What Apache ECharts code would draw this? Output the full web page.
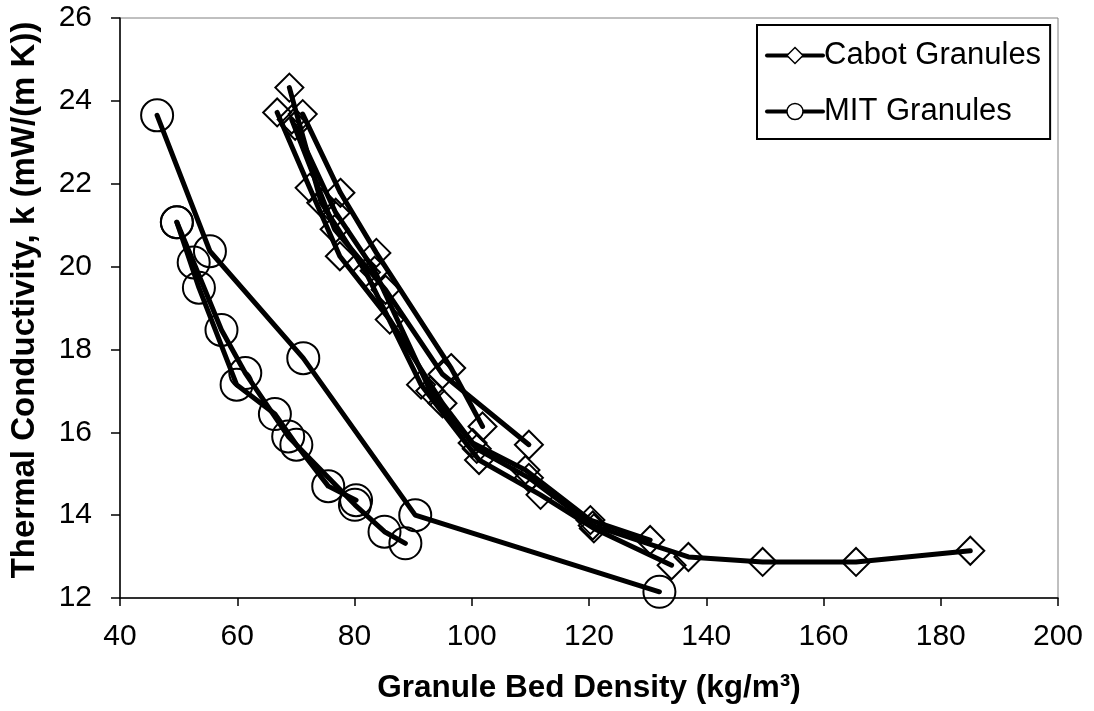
<!DOCTYPE html>
<html><head><meta charset="utf-8">
<script src="https://cdn.jsdelivr.net/npm/echarts@6/dist/echarts.min.js"></script>
<style>html,body{margin:0;padding:0;background:#fff}#c{width:1094px;height:711px}</style>
</head><body><div id="c"></div>
<script>
// X ticks / Y ticks
const xTicks = [40, 60, 80, 100, 120, 140, 160, 180, 200];
const yTicks = [12, 14, 16, 18, 20, 22, 24, 26];

// Cabot Granules runs [density kg/m3, k mW/(m K)]
const cabotRun1 = [[68.89,24.32],[74.33,21.54],[81.95,19.86],[91.35,17.15],[101.24,15.33],[111.73,14.49],[120.83,13.68],[134.09,12.79]];
const cabotRun2 = [[71.17,23.68],[77.60,21.78],[83.73,20.33],[96.49,17.55],[101.84,16.14]];
const cabotRun3 = [[69.29,23.55],[76.61,20.90],[85.31,19.44],[95.01,17.40],[109.75,15.70]];
const cabotRun4 = [[66.81,23.72],[72.35,21.90],[77.50,20.25],[86.01,18.72],[95.01,16.70],[100.15,15.74],[109.16,15.09],[120.24,13.88],[130.43,13.40]];
const cabotRun5 = [[69.88,23.40],[76.80,21.30],[83.43,19.90],[92.93,17.00],[100.85,15.60],[109.75,14.90],[120.64,13.75],[136.96,12.99],[149.62,12.87],[165.55,12.87],[185.04,13.14]];

// MIT Granules runs
const mitRun1 = [[46.33,23.65],[55.34,20.37],[71.26,17.79],[90.36,14.00],[132.01,12.15]];
const mitRun2 = [[49.70,21.07],[53.46,19.49],[59.89,17.15],[66.42,16.44],[70.08,15.70],[75.52,14.70],[80.27,14.36]];
const mitRun3 = [[49.70,21.07],[52.57,20.10],[57.31,18.47],[61.37,17.43],[68.69,15.90],[80.07,14.25],[85.12,13.60],[88.68,13.32]];

const cabotRuns = [cabotRun1, cabotRun2, cabotRun3, cabotRun4, cabotRun5];
const mitRuns = [mitRun1, mitRun2, mitRun3];

const FONT = '"Liberation Sans", Arial, sans-serif';

function mk(name, data, symbol, size) {
  return {
    name, type: 'line', data, symbol, symbolSize: size,
    showAllSymbol: true,
    lineStyle: { color: '#000', width: 5, cap: 'round', join: 'round' },
    itemStyle: { color: 'rgba(255,255,255,0)', borderColor: '#000', borderWidth: 2 },
    emphasis: { disabled: true },
    animation: false, z: 2
  };
}

const series = [];
cabotRuns.forEach(r => series.push(mk('Cabot Granules', r, 'diamond', 28)));
mitRuns.forEach(r => series.push(mk('MIT Granules', r, 'circle', 32)));

const chart = echarts.init(document.getElementById('c'), null, { renderer: 'canvas' });
chart.setOption({
  backgroundColor: '#fff',
  animation: false,
  grid: { left: 116, right: 36, top: 18, bottom: 113, show: true, borderColor: '#808080', borderWidth: 1, backgroundColor: 'transparent' },
  xAxis: {
    type: 'value', min: xTicks[0], max: xTicks[xTicks.length - 1], interval: 20,
    name: 'Granule Bed Density (kg/m³)', nameLocation: 'middle', nameGap: 74,
    nameTextStyle: { fontFamily: FONT, fontSize: 31.5, fontWeight: 'bold', color: '#000' },
    axisLine: { lineStyle: { color: '#000', width: 1.5 } },
    axisTick: { inside: false, length: 8, lineStyle: { color: '#000', width: 1.5 } },
    axisLabel: { fontFamily: FONT, fontSize: 30, color: '#000', margin: 24 },
    splitLine: { show: false }
  },
  yAxis: {
    type: 'value', min: yTicks[0], max: yTicks[yTicks.length - 1], interval: 2,
    name: 'Thermal Conductivity, k (mW/(m K))', nameLocation: 'middle', nameGap: 79,
    nameTextStyle: { fontFamily: FONT, fontSize: 33, fontWeight: 'bold', color: '#000', padding: [0, 0, 0, 16] },
    axisLine: { lineStyle: { color: '#000', width: 1.5 } },
    axisTick: { inside: false, length: 9, lineStyle: { color: '#000', width: 1.5 } },
    axisLabel: { fontFamily: FONT, fontSize: 30, color: '#000', margin: 28 },
    splitLine: { show: false }
  },
  legend: {
    data: [
      { name: 'Cabot Granules', itemStyle: { color: '#fff', borderColor: '#000', borderWidth: 1.5 } },
      { name: 'MIT Granules', itemStyle: { color: '#fff', borderColor: '#000', borderWidth: 1.5 } }
    ],
    orient: 'vertical', left: 757, top: 25,
    backgroundColor: '#fff', borderColor: '#000', borderWidth: 2,
    padding: [15, 9, 12, 8], itemGap: 25, itemWidth: 56, itemHeight: 20,
    lineStyle: { color: '#000', width: 4 },
    textStyle: { fontFamily: FONT, fontSize: 31, color: '#000', padding: [0, 0, 0, -4] },
    selectedMode: false
  },
  series
});
</script></body></html>
